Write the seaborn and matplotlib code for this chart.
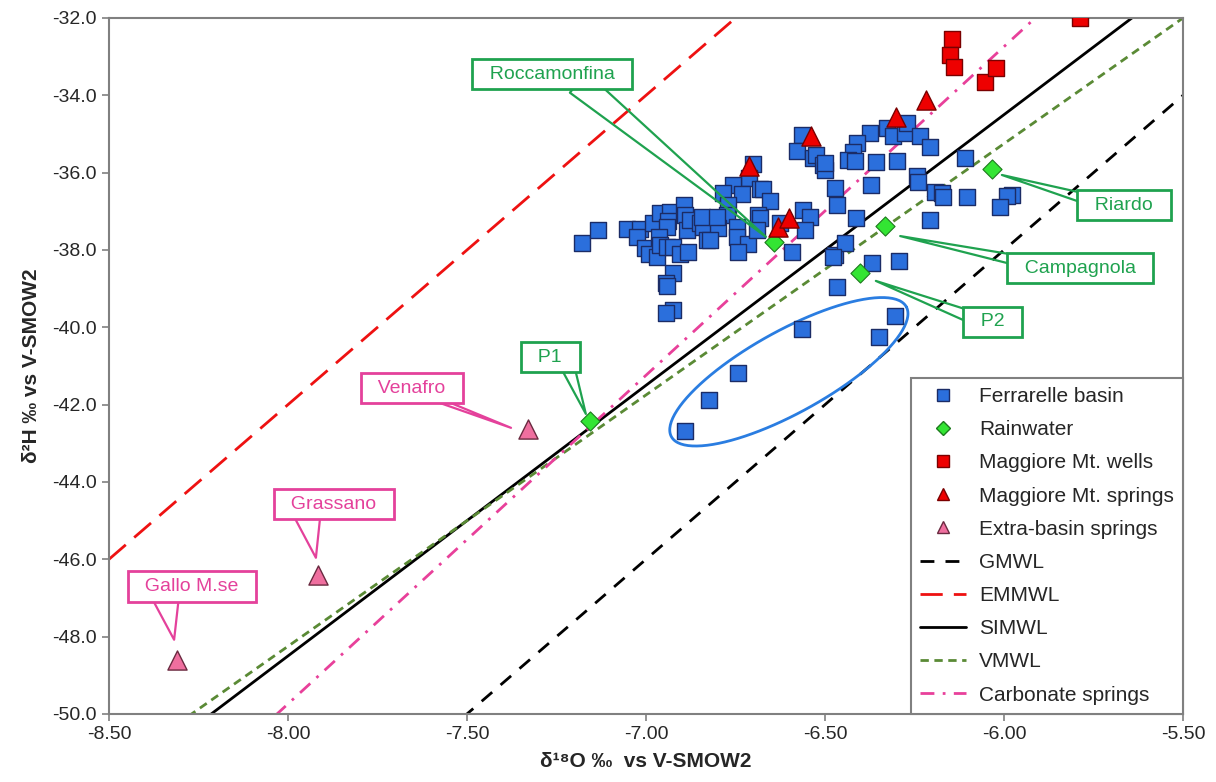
import matplotlib.pyplot as plt
from matplotlib.lines import Line2D
import numpy as np
import pandas as pd
import seaborn as sns

# Ferrarelle basin samples (d18O, d2H)
ferr_d18o = [-7.179, -7.134, -7.053, -7.017, -7.025, -7.003, -6.992, -6.969, -6.980, -6.961,
             -6.933, -6.939, -6.941, -6.964, -6.961, -6.941, -6.925, -6.905, -6.883, -6.894,
             -6.891, -6.885, -6.877, -6.849, -6.841, -6.830, -6.925, -6.944, -6.941, -6.925,
             -6.944, -6.564, -6.578, -6.534, -6.525, -6.506, -6.500, -6.472, -6.466, -6.701,
             -6.712, -6.757, -6.732, -6.785, -6.682, -6.673, -6.654, -6.771, -6.774, -6.687,
             -6.682, -6.561, -6.542, -6.556, -6.626, -6.844, -6.799, -6.802, -6.746, -6.746,
             -6.821, -6.715, -6.743, -6.690, -6.592, -6.472, -6.374, -6.327, -6.310, -6.277,
             -6.271, -6.235, -6.207, -6.411, -6.422, -6.436, -6.416, -6.358, -6.299, -6.500,
             -6.372, -6.243, -6.240, -6.109, -6.193, -6.173, -6.170, -6.103, -6.413, -6.207,
             -6.444, -6.478, -6.369, -6.293, -6.466, -6.304, -5.978, -5.992, -6.011, -6.349,
             -6.564, -6.743, -6.824, -6.891]
ferr_d2h = [-37.82, -37.48, -37.46, -37.46, -37.66, -37.95, -38.10, -38.18, -37.30, -37.04,
            -37.02, -37.25, -37.40, -37.66, -37.87, -37.92, -37.92, -38.10, -38.05, -36.84,
            -37.09, -37.48, -37.22, -37.30, -37.40, -37.74, -38.59, -38.85, -38.93, -39.55,
            -39.63, -35.03, -35.44, -35.62, -35.54, -35.80, -35.93, -36.40, -36.84, -35.78,
            -36.14, -36.32, -36.55, -36.53, -36.42, -36.42, -36.73, -36.84, -37.09, -37.09,
            -37.17, -36.97, -37.15, -37.48, -37.30, -37.15, -37.43, -37.15, -37.40, -37.66,
            -37.74, -37.84, -38.05, -37.48, -38.05, -38.13, -34.97, -34.84, -35.05, -34.97,
            -34.72, -35.05, -35.34, -35.23, -35.47, -35.67, -35.70, -35.72, -35.70, -35.75,
            -36.32, -36.09, -36.24, -35.62, -36.50, -36.53, -36.63, -36.63, -37.17, -37.22,
            -37.82, -38.18, -38.34, -38.28, -38.96, -39.71, -36.58, -36.60, -36.89, -40.25,
            -40.04, -41.18, -41.88, -42.68]

rain_names = ['P1', 'Roccamonfina', 'Campagnola', 'P2', 'Riardo']
rain_d18o = [-7.156, -6.643, -6.332, -6.402, -6.034]
rain_d2h = [-42.42, -37.79, -37.38, -38.59, -35.90]

wells_d18o = [-6.145, -6.151, -6.140, -6.053, -6.022, -5.788]
wells_d2h = [-32.54, -32.96, -33.27, -33.66, -33.29, -32.00]

springs_d18o = [-6.712, -6.631, -6.600, -6.539, -6.302, -6.218]
springs_d2h = [-35.82, -37.40, -37.17, -35.05, -34.56, -34.12]

extra_names = ['Venafro', 'Grassano', 'Gallo M.se']
extra_d18o = [-7.33, -7.916, -8.31]
extra_d2h = [-42.63, -46.40, -48.60]

# meteoric water lines: d2H = slope * d18O + intercept
mwl_names = ['GMWL', 'EMMWL', 'SIMWL', 'VMWL', 'Carbonate springs']
mwl_slope = [8.0, 8.0, 7.0, 6.5, 8.5]
mwl_icpt = [10.0, 22.0, 7.5, 3.75, 18.26]

xticks = [-8.5, -8.0, -7.5, -7.0, -6.5, -6.0, -5.5]
yticks = [-50, -48, -46, -44, -42, -40, -38, -36, -34, -32]

BLUE, BLUE_EC = '#2b6fdc', '#1b2c66'
GREEN_PT, GREEN_EC = '#33e533', '#1d7a1d'
RED, RED_EC = '#ee0000', '#7a0000'
PINK_PT, PINK_EC = '#ef6f9f', '#6a2a40'
CALL_G = '#1fa24f'
CALL_P = '#e4419b'

line_style = {
    'GMWL': dict(color='black', lw=2.0, ls=(0, (5, 4))),
    'EMMWL': dict(color='#ee1111', lw=2.0, ls=(0, (8, 4))),
    'SIMWL': dict(color='black', lw=2.0, ls='-'),
    'VMWL': dict(color='#5a8a35', lw=2.0, ls=(0, (3, 2))),
    'Carbonate springs': dict(color='#e8409a', lw=2.0, ls=(0, (5, 3, 1, 3))),
}

sns.set_style('ticks')
plt.rcParams['font.family'] = ['Liberation Sans', 'DejaVu Sans']

fig = plt.figure(figsize=(12.16, 7.82), dpi=100)
ax = fig.add_axes([0.0896, 0.087, 0.8833, 0.890])

xl = np.array([-8.5, -5.5])
for name, m, b in zip(mwl_names, mwl_slope, mwl_icpt):
    st = line_style[name]
    sns.lineplot(x=xl, y=m * xl + b, color=st['color'], linewidth=st['lw'],
                 linestyle=st['ls'], ax=ax, legend=False, zorder=2)

# ellipse around the low-d18O Ferrarelle group
t = np.linspace(0, 2 * np.pi, 200)
ell_c = (-6.601, -41.15)
ell_u = (0.328, 1.681)
ell_v = (0.0556, -0.928)
ax.plot(ell_c[0] + ell_u[0] * np.cos(t) + ell_v[0] * np.sin(t),
        ell_c[1] + ell_u[1] * np.cos(t) + ell_v[1] * np.sin(t),
        color='#2a7de1', lw=2, zorder=2)

sns.scatterplot(x=ferr_d18o, y=ferr_d2h, marker='s', s=125, color=BLUE,
                edgecolor=BLUE_EC, linewidth=1.0, ax=ax, zorder=3, legend=False)
sns.scatterplot(x=rain_d18o, y=rain_d2h, marker='D', s=95, color=GREEN_PT,
                edgecolor=GREEN_EC, linewidth=0.8, ax=ax, zorder=4, legend=False)
sns.scatterplot(x=wells_d18o, y=wells_d2h, marker='s', s=125, color=RED,
                edgecolor=RED_EC, linewidth=1.0, ax=ax, zorder=5, legend=False)
sns.scatterplot(x=springs_d18o, y=springs_d2h, marker='^', s=190, color=RED,
                edgecolor=RED_EC, linewidth=1.0, ax=ax, zorder=5, legend=False)
sns.scatterplot(x=extra_d18o, y=extra_d2h, marker='^', s=190, color=PINK_PT,
                edgecolor=PINK_EC, linewidth=1.0, ax=ax, zorder=5, legend=False)

# callouts: label, box centre, pointer tip, relpos, wedge width, colour
callouts = [
    ('Roccamonfina', (-7.263, -33.45), (-6.665, -37.66), (0.68, 0.0), 1.35, CALL_G),
    ('Riardo', (-5.665, -36.84), (-6.006, -36.06), (0.0, 0.9), 0.5, CALL_G),
    ('Campagnola', (-5.788, -38.47), (-6.290, -37.64), (0.0, 1.0), 0.5, CALL_G),
    ('P2', (-6.031, -39.86), (-6.358, -38.80), (0.0, 0.8), 0.6, CALL_G),
    ('P1', (-7.268, -40.77), (-7.168, -42.24), (0.88, 0.0), 0.7, CALL_G),
    ('Venafro', (-7.654, -41.57), (-7.377, -42.60), (0.69, 0.0), 0.25, CALL_P),
    ('Grassano', (-7.872, -44.57), (-7.922, -45.96), (0.25, 0.0), 1.45, CALL_P),
    ('Gallo M.se', (-8.268, -46.71), (-8.318, -48.08), (0.27, 0.0), 1.45, CALL_P),
]
for lab, xyt, xy, rp, tw, col in callouts:
    ax.annotate('  ' + lab + '  ', xy=xy, xytext=xyt, ha='center', va='center',
                fontsize=14, color=col, zorder=6,
                bbox=dict(boxstyle='square,pad=0.35', fc='white', ec=col, lw=2),
                arrowprops=dict(arrowstyle=f'wedge,tail_width={tw},shrink_factor=0.5',
                                fc='none', ec=col, lw=1.6, patchA=None,
                                shrinkA=0, shrinkB=0, relpos=rp))

ax.set_xlim(-8.5, -5.5)
ax.set_ylim(-50, -32)
ax.set_xticks(xticks)
ax.set_xticklabels([f'{v:.2f}' for v in xticks])
ax.set_yticks(yticks)
ax.set_yticklabels([f'{v:.1f}' for v in yticks])
ax.tick_params(direction='out', length=5, width=1.2, color='#808080',
               labelsize=14, pad=4)
for sp in ax.spines.values():
    sp.set_visible(True)
    sp.set_color('#808080')
    sp.set_linewidth(1.5)

ax.set_xlabel('δ¹⁸O ‰  vs V-SMOW2', fontsize=15, fontweight='bold', labelpad=6)
ax.set_ylabel('δ²H ‰ vs V-SMOW2', fontsize=15, fontweight='bold', labelpad=8)

handles = [
    Line2D([], [], ls='none', marker='s', ms=8, mfc=BLUE, mec=BLUE_EC, label='Ferrarelle basin'),
    Line2D([], [], ls='none', marker='D', ms=7, mfc=GREEN_PT, mec=GREEN_EC, label='Rainwater'),
    Line2D([], [], ls='none', marker='s', ms=8, mfc=RED, mec=RED_EC, label='Maggiore Mt. wells'),
    Line2D([], [], ls='none', marker='^', ms=9, mfc=RED, mec=RED_EC, label='Maggiore Mt. springs'),
    Line2D([], [], ls='none', marker='^', ms=9, mfc=PINK_PT, mec=PINK_EC, label='Extra-basin springs'),
]
for name in mwl_names:
    st = line_style[name]
    handles.append(Line2D([], [], color=st['color'], lw=st['lw'], ls=st['ls'], label=name))
leg = ax.legend(handles=handles, loc='lower right', borderaxespad=0, fontsize=15,
                frameon=True, fancybox=False, edgecolor='#808080', framealpha=1,
                handlelength=2.2, handletextpad=0.6, labelspacing=0.68, borderpad=0.45)
leg.get_frame().set_linewidth(1.5)
leg.set_zorder(7)

fig.savefig('out.png', dpi=100)
